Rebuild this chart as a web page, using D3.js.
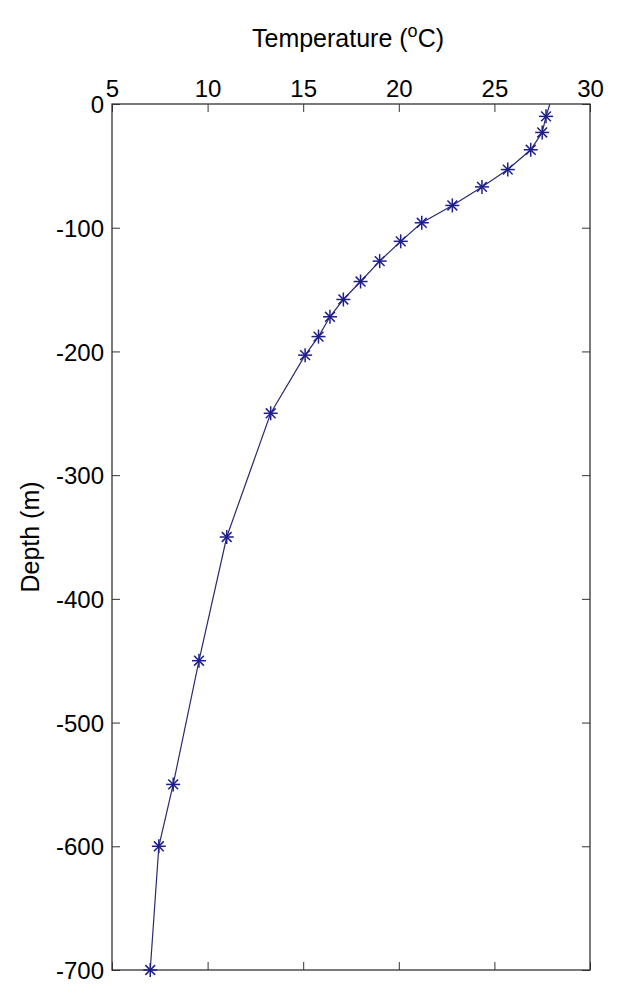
<!DOCTYPE html>
<html>
<head>
<meta charset="utf-8">
<script src="https://cdn.jsdelivr.net/npm/d3@7"></script>
<style>
  html, body { margin: 0; padding: 0; background: #fff; }
  svg { display: block; font-family: "Liberation Sans", Arial, sans-serif; }
</style>
</head>
<body>
<svg id="chart" width="625" height="1000"></svg>
<script>
// Measured profile (temperature °C vs depth m)
const depths = [-10, -23, -37, -53, -67, -82, -96, -111, -127, -143.5, -158, -172, -188, -203, -250, -350, -450, -550, -600, -700];
const temps  = [27.7, 27.5, 26.9, 25.7, 24.35, 22.8, 21.2, 20.1, 19.0, 18.0, 17.1, 16.4, 15.8, 15.1, 13.3, 11.0, 9.55, 8.2, 7.45, 7.0];
// line continues to the surface (no marker)
const surfaceDepth = [0];
const surfaceTemp = [27.9];

const xTicks = [5, 10, 15, 20, 25, 30];
const yTicks = [0, -100, -200, -300, -400, -500, -600, -700];
const xTitle = "Temperature (";
const yTitle = "Depth (m)";

const margin = { left: 112, right: 35, top: 104, bottom: 30 };
const W = 625, H = 1000;
const x0 = margin.left, x1 = W - margin.right, y0 = margin.top, y1 = H - margin.bottom;

const svg = d3.select("#chart");
const x = d3.scaleLinear().domain([5, 30]).range([x0, x1]);
const y = d3.scaleLinear().domain([0, -700]).range([y0, y1]);

const axisColor = "#333";
const tickLen = 8;
const fmt = d => String(d); // hyphen-minus like the reference

svg.append("defs").append("clipPath").attr("id", "clip")
  .append("rect").attr("x", x0).attr("y", y0 - 8).attr("width", x1 - x0 + 8).attr("height", y1 - y0 + 16);

const gTop = svg.append("g").attr("transform", `translate(0,${y0})`)
  .call(d3.axisTop(x).tickValues(xTicks).tickSize(-tickLen).tickPadding(tickLen + 6).tickFormat(fmt));
const gBot = svg.append("g").attr("transform", `translate(0,${y1})`)
  .call(d3.axisBottom(x).tickValues(xTicks).tickSize(-tickLen).tickFormat(""));
const gLeft = svg.append("g").attr("transform", `translate(${x0},0)`)
  .call(d3.axisLeft(y).tickValues(yTicks).tickSize(-tickLen).tickPadding(tickLen + 8).tickFormat(fmt));
const gRight = svg.append("g").attr("transform", `translate(${x1},0)`)
  .call(d3.axisRight(y).tickValues(yTicks).tickSize(-tickLen).tickFormat(""));

[gTop, gBot, gLeft, gRight].forEach(g => {
  g.select(".domain").remove();
  g.selectAll(".tick line").attr("stroke", axisColor);
  g.selectAll(".tick text").attr("fill", "#000").style("font-size", "24px")
    .style("font-family", "'Liberation Sans', Arial, sans-serif");
});
gTop.selectAll(".tick text").attr("y", -7).attr("dy", "0");
gLeft.selectAll(".tick text").attr("x", -8).attr("dy", "0.36em");

svg.append("rect").attr("x", x0).attr("y", y0).attr("width", x1 - x0).attr("height", y1 - y0)
  .attr("fill", "none").attr("stroke", axisColor).attr("stroke-width", 1.3);

const t = svg.append("text").attr("x", 348).attr("y", 47)
  .attr("text-anchor", "middle").style("font-size", "25px").attr("fill", "#000");
t.append("tspan").text(xTitle);
t.append("tspan").text("o").attr("dy", -10).style("font-size", "18px");
t.append("tspan").text("C)").attr("dy", 10);

svg.append("text")
  .attr("transform", `translate(39,${(y0 + y1) / 2}) rotate(-90)`)
  .attr("text-anchor", "middle").style("font-size", "25px").attr("fill", "#000")
  .text(yTitle);

const pts = depths.map((d, i) => ({ d, t: temps[i] }));
const linePts = surfaceDepth.map((d, i) => ({ d, t: surfaceTemp[i] })).concat(pts);
const color = "#1e1e8c";

const plot = svg.append("g").attr("clip-path", "url(#clip)");
plot.append("path").datum(linePts)
  .attr("d", d3.line().x(p => x(p.t)).y(p => y(p.d)))
  .attr("fill", "none").attr("stroke", "#2a2a70").attr("stroke-width", 1.2);

const r = 7;
const mk = plot.selectAll("g.mk").data(pts).join("g").attr("class", "mk")
  .attr("transform", p => `translate(${x(p.t)},${y(p.d)})`);
const segs = [[-r, 0, r, 0], [0, -r, 0, r], [-r * 0.7, -r * 0.7, r * 0.7, r * 0.7], [-r * 0.7, r * 0.7, r * 0.7, -r * 0.7]];
segs.forEach(s => {
  mk.append("line").attr("x1", s[0]).attr("y1", s[1]).attr("x2", s[2]).attr("y2", s[3])
    .attr("stroke", color).attr("stroke-width", 1.5);
});
</script>
</body>
</html>
